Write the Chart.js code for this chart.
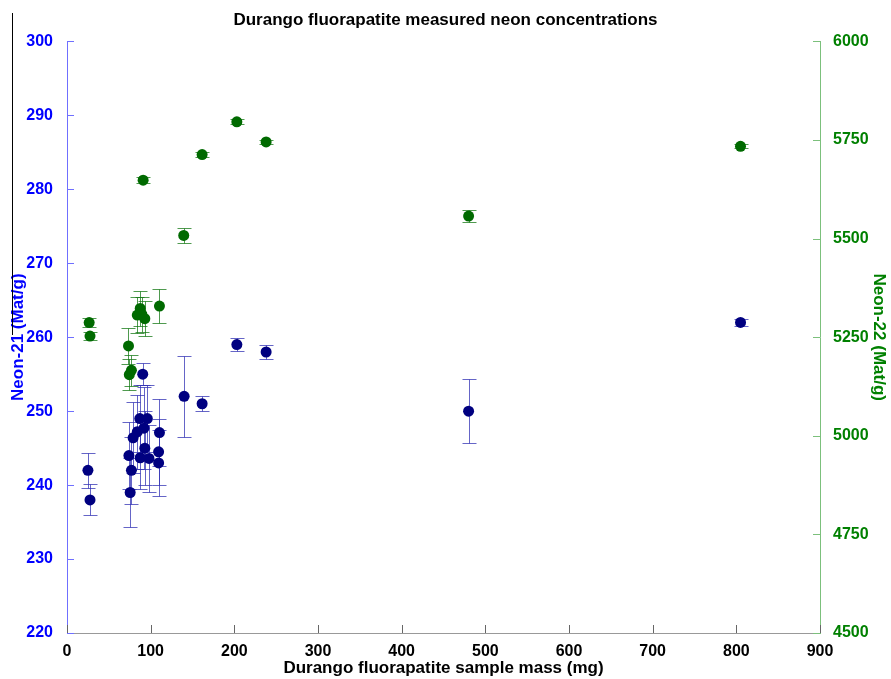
<!DOCTYPE html>
<html lang="en">
<head>
<meta charset="UTF-8">
<title>Durango fluorapatite measured neon concentrations</title>
<script src="https://cdn.jsdelivr.net/npm/chart.js@4.4.0/dist/chart.umd.min.js"></script>
<style>
  html, body { margin: 0; padding: 0; background: #fff; }
  #wrap { position: relative; width: 891px; height: 679px; }
  #stray { position: absolute; left: 12px; top: 13px; width: 1px; height: 322px; background: #000; }
</style>
</head>
<body>
<div id="wrap">
  <canvas id="neonChart" width="891" height="679"></canvas>
  <div id="stray"></div>
</div>
<script>
// sample mass (mg) and Neon-21 (Mat/g) with 1-sigma errors
const mass21 = [25, 27.5, 74, 75.5, 77, 79, 84, 87, 87.5, 90.5, 92, 93, 96, 98, 109.5, 109.5, 110.5, 140, 161.5, 203, 238, 480, 805];
const ne21   = [242, 238, 244, 239, 242, 246.4, 247.2, 249, 243.7, 255, 247.7, 245, 249, 243.6, 244.5, 243, 247.1, 252, 251, 259, 258, 250, 262];
const err21  = [2.4, 2.1, 4.5, 4.7, 4.5, 4.8, 5, 4.5, 4.2, 1.5, 5.5, 5, 4.5, 4.5, 4.5, 4.5, 4.5, 5.5, 1.0, 0.9, 0.9, 4.3, 0.5];

// sample mass (mg) and Neon-22 (Mat/g)
const mass22 = [26.5, 27.5, 73.5, 74.5, 77, 84, 87.5, 89.5, 91, 93, 110.5, 139.5, 161.5, 203, 238, 480, 805];
const ne22   = [5287, 5253, 5228, 5155, 5166, 5306, 5323, 5308, 5648, 5297, 5329, 5508, 5713, 5796, 5745, 5557, 5734];
const err22  = [11, 10, 45, 40, 40, 45, 45, 45, 8, 45, 44, 20, 6, 6, 6, 15, 5];

const FONT = '"Liberation Sans", Arial, Helvetica, sans-serif';

function points(xs, ys) {
  return xs.map((x, i) => ({ x: x, y: ys[i] }));
}

// vertical error bars with caps, drawn under the markers
const errorBars = {
  id: 'errorBars',
  beforeDatasetsDraw(chart) {
    const ctx = chart.ctx;
    const sx = chart.scales.x;
    chart.data.datasets.forEach(ds => {
      const sy = chart.scales[ds.yAxisID];
      ctx.save();
      ctx.strokeStyle = ds.errColor;
      ctx.lineWidth = 1;
      ds.data.forEach((p, i) => {
        const px = Math.round(sx.getPixelForValue(p.x)) + 0.5;
        const top = Math.round(sy.getPixelForValue(p.y + ds.errors[i])) + 0.5;
        const bot = Math.round(sy.getPixelForValue(p.y - ds.errors[i])) + 0.5;
        ctx.beginPath();
        ctx.moveTo(px, top); ctx.lineTo(px, bot);
        ctx.moveTo(px - 7, top); ctx.lineTo(px + 7, top);
        ctx.moveTo(px - 7, bot); ctx.lineTo(px + 7, bot);
        ctx.stroke();
      });
      ctx.restore();
    });
  }
};

// tick marks pointing into the plot, like the original
const innerTicks = {
  id: 'innerTicks',
  afterDraw(chart) {
    const ctx = chart.ctx, a = chart.chartArea;
    const sx = chart.scales.x, yl = chart.scales.y, yr = chart.scales.y2;
    ctx.save();
    ctx.lineWidth = 1;
    ctx.beginPath();
    ctx.strokeStyle = '#666';
    sx.ticks.forEach(t => {
      const px = Math.round(sx.getPixelForValue(t.value)) + 0.5;
      ctx.moveTo(px, a.bottom); ctx.lineTo(px, a.bottom - 8);
    });
    ctx.stroke();
    ctx.beginPath();
    ctx.strokeStyle = '#6f6fff';
    yl.ticks.forEach(t => {
      const py = Math.round(yl.getPixelForValue(t.value)) + 0.5;
      ctx.moveTo(a.left, py); ctx.lineTo(a.left + 7, py);
    });
    ctx.stroke();
    ctx.beginPath();
    ctx.strokeStyle = '#7cc07c';
    yr.ticks.forEach(t => {
      const py = Math.round(yr.getPixelForValue(t.value)) + 0.5;
      ctx.moveTo(a.right, py); ctx.lineTo(a.right - 7, py);
    });
    ctx.stroke();
    ctx.restore();
  }
};

new Chart(document.getElementById('neonChart'), {
  type: 'scatter',
  data: {
    datasets: [
      {
        label: 'Neon-21',
        data: points(mass21, ne21),
        errors: err21,
        errColor: 'rgba(50,50,180,0.75)',
        yAxisID: 'y',
        backgroundColor: '#000080',
        borderWidth: 0,
        pointRadius: 5.5
      },
      {
        label: 'Neon-22',
        data: points(mass22, ne22),
        errors: err22,
        errColor: 'rgba(20,120,20,0.75)',
        yAxisID: 'y2',
        backgroundColor: '#006a00',
        borderWidth: 0,
        pointRadius: 5.5
      }
    ]
  },
  options: {
    responsive: false,
    animation: false,
    layout: { padding: 0 },
    plugins: {
      legend: { display: false },
      tooltip: { enabled: false },
      title: {
        display: true,
        text: 'Durango fluorapatite measured neon concentrations',
        color: '#000',
        font: { family: FONT, size: 17, weight: 'bold' },
        padding: { top: 10, bottom: 11 }
      }
    },
    scales: {
      x: {
        type: 'linear',
        min: 0,
        max: 900,
        afterFit(s) { s.height = 46; },
        grid: { display: false },
        border: { display: true, color: '#999', width: 1 },
        ticks: {
          stepSize: 100,
          padding: 1,
          color: '#000',
          font: { family: FONT, size: 16, weight: 'bold' }
        },
        title: {
          display: true,
          text: 'Durango fluorapatite sample mass (mg)',
          color: '#000',
          font: { family: FONT, size: 17, weight: 'bold' },
          padding: { top: 0, bottom: 0 }
        }
      },
      y: {
        type: 'linear',
        position: 'left',
        min: 220,
        max: 300,
        afterFit(s) { s.width = 67; },
        grid: { display: false },
        border: { display: true, color: '#6f6fff', width: 1 },
        ticks: {
          stepSize: 10,
          padding: 6,
          color: '#0000ff',
          font: { family: FONT, size: 16, weight: 'bold' }
        },
        title: {
          display: true,
          text: 'Neon-21 (Mat/g)',
          color: '#0000ff',
          font: { family: FONT, size: 17, weight: 'bold' },
          padding: { top: 8, bottom: 0 }
        }
      },
      y2: {
        type: 'linear',
        position: 'right',
        min: 4500,
        max: 6000,
        afterFit(s) { s.width = 71; },
        grid: { display: false },
        border: { display: true, color: '#7cc07c', width: 1 },
        ticks: {
          stepSize: 250,
          padding: 5,
          color: '#008000',
          font: { family: FONT, size: 16, weight: 'bold' },
          callback: v => String(v)
        },
        title: {
          display: true,
          text: 'Neon-22 (Mat/g)',
          color: '#008000',
          font: { family: FONT, size: 17, weight: 'bold' },
          padding: { top: 2, bottom: 0 }
        }
      }
    }
  },
  plugins: [errorBars, innerTicks]
});
</script>
</body>
</html>
